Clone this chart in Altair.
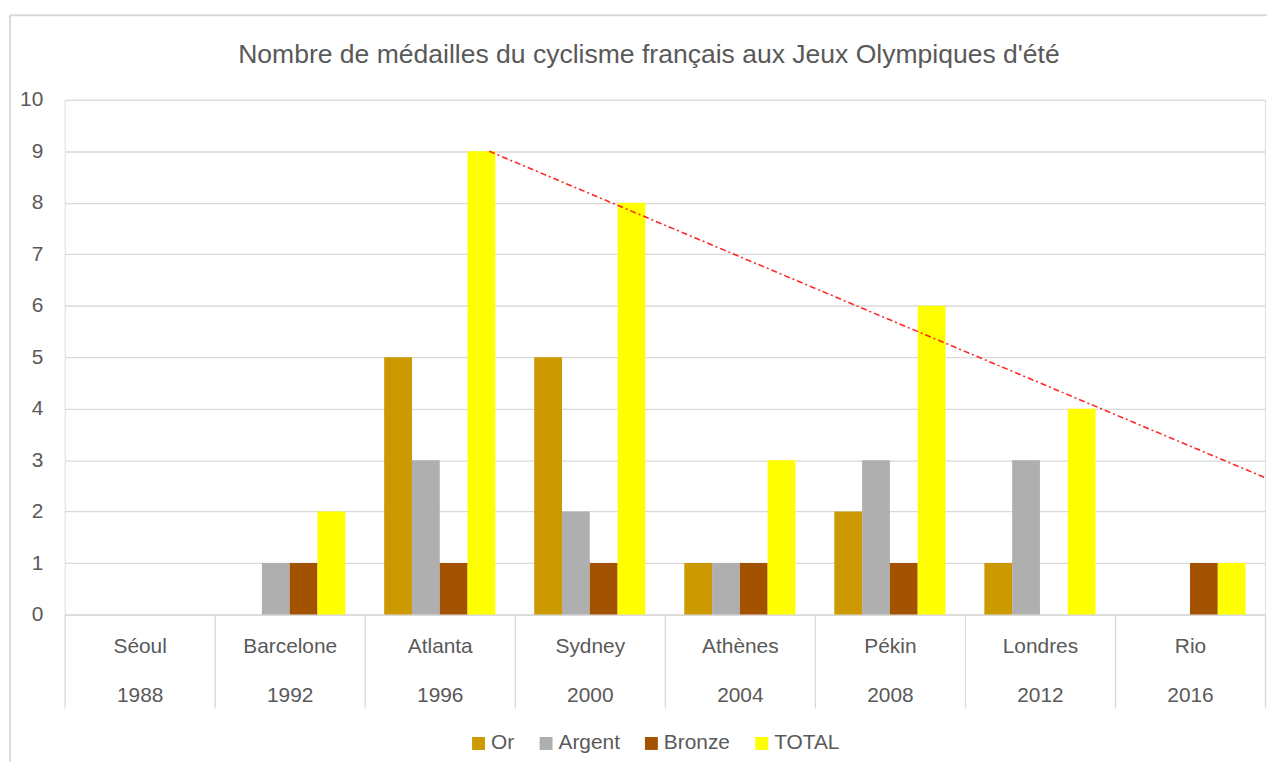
import altair as alt
import pandas as pd

cities = ["Séoul", "Barcelone", "Atlanta", "Sydney", "Athènes", "Pékin", "Londres", "Rio"]
years = ["1988", "1992", "1996", "2000", "2004", "2008", "2012", "2016"]
series = ["Or", "Argent", "Bronze", "TOTAL"]
gold = [0, 0, 5, 5, 1, 2, 1, 0]
silver = [0, 1, 3, 2, 1, 3, 3, 0]
bronze = [0, 1, 1, 1, 1, 1, 0, 1]
total = [0, 2, 9, 8, 3, 6, 4, 1]
colors = ["#CC9900", "#AFAFAF", "#A35200", "#FFFF00"]
# trend line (position in category units, value)
trend_x = [2.83, 8.0]
trend_y = [9, 2.66]
title_text = "Nombre de médailles du cyclisme français aux Jeux Olympiques d'été"

FONT = "Liberation Sans"
TXT = "#595959"
GRID = "#D9D9D9"
W, H = 1208, 518

cats = [f"{c} {y}" for c, y in zip(cities, years)]
rows = []
for i, cat in enumerate(cats):
    for s, vals in zip(series, [gold, silver, bronze, total]):
        rows.append({"cat": cat, "series": s, "value": vals[i]})
df = pd.DataFrame(rows)
tdf = pd.DataFrame({"tx": trend_x, "ty": trend_y})
one = pd.DataFrame({"k": [0]})
tt = pd.DataFrame({"t": [title_text]})

bars = alt.Chart(df).mark_bar().encode(
    x=alt.X("cat:N", sort=cats, scale=alt.Scale(paddingInner=0, paddingOuter=0),
            axis=alt.Axis(title=None, labelExpr="split(datum.label, ' ')", labelAngle=0,
                          labelFontSize=21, labelColor=TXT, labelFont=FONT,
                          labelLineHeight=50, labelBaseline="top", labelPadding=-73,
                          tickBand="extent", tickSize=94, tickColor=GRID, tickWidth=1.3,
                          domainColor=GRID, domainWidth=1.3, grid=False)),
    xOffset=alt.XOffset("series:N", sort=series,
                        scale=alt.Scale(paddingOuter=0.7, paddingInner=0)),
    y=alt.Y("value:Q", scale=alt.Scale(domain=[0, 10], nice=False),
            axis=alt.Axis(title=None, values=list(range(11)), labelFontSize=21,
                          labelColor=TXT, labelFont=FONT, labelPadding=22, ticks=False,
                          domain=False, grid=True, gridColor=GRID, gridWidth=1.3)),
    color=alt.Color("series:N", sort=series,
                    scale=alt.Scale(domain=series, range=colors),
                    legend=alt.Legend(title=None, orient="none", direction="horizontal",
                                      legendX=406, legendY=637, symbolType="square",
                                      symbolSize=169, symbolStrokeWidth=0,
                                      labelFontSize=21, labelFont=FONT, labelColor=TXT,
                                      labelOffset=2, columnPadding=21)),
)

line = alt.Chart(tdf).mark_line(color="#FF0000", strokeWidth=1.6,
                                strokeDash=[6, 3, 2, 3], opacity=0.85).encode(
    x=alt.X("tx:Q", scale=alt.Scale(domain=[0, 8], nice=False, zero=False), axis=None),
    y=alt.Y("ty:Q", scale=alt.Scale(domain=[0, 10], nice=False), axis=None),
)

title = alt.Chart(tt).mark_text(font=FONT, fontSize=26.7, color=TXT, align="center",
                                baseline="alphabetic").encode(
    text="t:N", x=alt.value(W / 2 - 16), y=alt.value(-37))

border_v = alt.Chart(one).mark_rule(color=GRID, strokeWidth=2).encode(
    x=alt.value(-55), y=alt.value(-85), y2=alt.value(H + 148))
border_h = alt.Chart(one).mark_rule(color=GRID, strokeWidth=2).encode(
    x=alt.value(-55), x2=alt.value(W + 2), y=alt.value(-85))

chart = alt.layer(bars, line, title, border_v, border_h).resolve_scale(
    x="independent", y="independent"
).properties(
    width=W, height=H,
    autosize=alt.AutoSizeParams(type="none"),
    padding={"left": 57, "top": 90, "right": 2, "bottom": 148},
).configure_view(stroke=None).configure(background="white")

chart.save("out.html", embed_options={"renderer": "svg", "actions": False})
